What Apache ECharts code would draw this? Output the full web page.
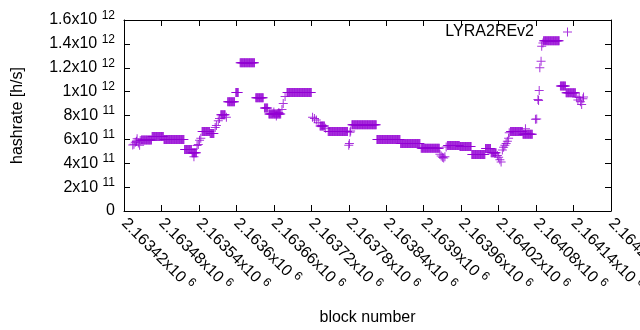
<!DOCTYPE html>
<html>
<head>
<meta charset="utf-8">
<script src="https://cdn.jsdelivr.net/npm/echarts@6/dist/echarts.min.js"></script>
<style>
  html, body { margin: 0; padding: 0; background: #fff; }
  #chart { width: 640px; height: 330px; }
</style>
</head>
<body>
<div id="chart"></div>
<script>
// plateaus: runs of consecutive blocks sharing one hashrate (value x 1e11 h/s)
const runStart = [2163448, 2163465, 2163484, 2163517, 2163529, 2163545, 2163558, 2163575, 2163586, 2163599,
                  2163606, 2163631, 2163645, 2163652, 2163681, 2163734, 2163747, 2163785, 2163825, 2163863,
                  2163896, 2163938, 2163958, 2163977, 2163999, 2164008, 2164039, 2164059, 2164092, 2164119,
                  2164128];
const runEnd   = [2163464, 2163483, 2163516, 2163528, 2163536, 2163557, 2163564, 2163582, 2163597, 2163603,
                  2163629, 2163643, 2163650, 2163671, 2163720, 2163741, 2163778, 2163824, 2163862, 2163894,
                  2163925, 2163957, 2163976, 2163998, 2164007, 2164016, 2164058, 2164074, 2164117, 2164127,
                  2164143];
const runValue = [5.95, 6.24, 5.98, 5.15, 4.89, 6.66, 6.5, 8.06, 9.16, 9.92,
                  12.41, 9.49, 8.63, 8.12, 9.92, 7.12, 6.67, 7.23, 5.98, 5.65,
                  5.26, 5.48, 5.4, 4.74, 5.23, 4.89, 6.66, 6.43, 14.27, 10.48,
                  9.91];

// single blocks outside the plateaus (value x 1e11 h/s)
const pointBlock = [2163434, 2163436, 2163438, 2163440, 2163441, 2163443, 2163445, 2163446,
                    2163532, 2163537, 2163539, 2163541, 2163543,
                    2163566, 2163568, 2163571, 2163573, 2163584,
                    2163660, 2163664, 2163668, 2163673, 2163675, 2163678,
                    2163722, 2163725, 2163728, 2163731, 2163743,
                    2163780, 2163781, 2163782, 2163783,
                    2163926, 2163928, 2163930, 2163932, 2163934, 2163936,
                    2164018, 2164020, 2164022, 2164024,
                    2164026, 2164028, 2164030, 2164032, 2164034, 2164036, 2164037,
                    2164063, 2164079, 2164081,
                    2164083, 2164084, 2164085, 2164086, 2164088, 2164089, 2164091,
                    2164145, 2164147, 2164149, 2164151, 2164153, 2164155, 2164156];
const pointValue = [5.52, 5.59, 5.75, 5.85, 6.05, 5.7, 5.5, 5.9,
                    4.55, 5.48, 5.57, 5.93, 6.1,
                    6.99, 7.17, 7.55, 7.75, 7.86,
                    8.3, 7.95, 8.25, 8.5, 9.0, 9.6,
                    7.85, 7.75, 7.63, 7.4, 6.93,
                    5.5, 5.65, 6.6, 6.7,
                    4.75, 4.6, 4.5, 4.45, 4.55, 5.36,
                    4.65, 4.5, 4.3, 4.1,
                    5.1, 5.35, 5.5, 5.65, 5.85, 6.1, 6.55,
                    6.9, 7.68, 7.7,
                    9.33, 9.25, 10.1, 12.0, 12.55, 13.8, 14.08,
                    9.55, 9.3, 9.5, 9.15, 8.93, 9.4, 9.55];

const seriesName = 'LYRA2REv2';
const xMin = 2163420, xMax = 2164200, xStep = 60;
const yMin = 0, yMax = 1.6e12, yStep = 2e11;

const font = 'Liberation Sans';
const purple = '#9400d3';
const plus = 'path://M0,4L9,4L9,5L0,5Z M4,0L5,0L5,9L4,9Z';

let points = [];
runStart.forEach((s, i) => {
    for (let b = s; b <= runEnd[i]; b++) points.push([b, runValue[i] * 1e11]);
});
pointBlock.forEach((b, i) => points.push([b, pointValue[i] * 1e11]));

const rich = {
    n: {fontSize: 16, fontFamily: font, color: '#000'},
    s: {fontSize: 12, fontFamily: font, color: '#000', padding: [0, 0, 9, 0]}
};

function yLabel(v) {
    if (v === 0) return '0';
    const e = Math.floor(Math.log10(v) + 1e-9);
    const m = +(v / Math.pow(10, e)).toFixed(2);
    return '{n|' + m + 'x10} {s|' + e + '}';
}
function xLabel(v) {
    return '{n|' + (+(v / 1e6).toFixed(6)) + 'x10} {s|6}';
}

const tick = {show: true, inside: true, length: 6, lineStyle: {color: '#000', width: 1}};
const line = {show: true, onZero: false, lineStyle: {color: '#000', width: 1}};

let chart = echarts.init(document.getElementById('chart'), null, {renderer: 'canvas'});
chart.setOption({
    animation: false,
    backgroundColor: '#fff',
    grid: {left: 124, right: 29, top: 20, bottom: 119, containLabel: false, outerBoundsMode: 'none'},
    legend: {
        right: 68, top: 24, padding: 0, align: 'right',
        itemWidth: 9, itemHeight: 9,
        data: [{name: seriesName, icon: plus}],
        textStyle: {fontSize: 16, fontFamily: font, color: '#000', padding: [0, 24, 0, 0]}
    },
    xAxis: [
        {
            type: 'value', min: xMin, max: xMax, interval: xStep,
            name: 'block number', nameLocation: 'middle', nameGap: 99,
            nameTextStyle: {fontSize: 16, fontFamily: font, color: '#000'},
            axisLine: line, axisTick: tick, splitLine: {show: false},
            axisLabel: {
                rotate: -45, margin: 10, formatter: xLabel, rich: rich,
                fontSize: 16, fontFamily: font, color: '#000',
                showMinLabel: true, showMaxLabel: true, hideOverlap: false
            }
        },
        {
            type: 'value', position: 'top', min: xMin, max: xMax, interval: xStep,
            axisLine: line, axisTick: tick, splitLine: {show: false}, axisLabel: {show: false}
        }
    ],
    yAxis: [
        {
            type: 'value', min: yMin, max: yMax, interval: yStep,
            name: 'hashrate [h/s]', nameLocation: 'middle', nameGap: 98,
            nameTextStyle: {fontSize: 16, fontFamily: font, color: '#000'},
            axisLine: line, axisTick: tick, splitLine: {show: false},
            axisLabel: {
                margin: 9, formatter: yLabel, rich: rich,
                fontSize: 16, fontFamily: font, color: '#000',
                showMinLabel: true, showMaxLabel: true
            }
        },
        {
            type: 'value', position: 'right', min: yMin, max: yMax, interval: yStep,
            axisLine: line, axisTick: tick, splitLine: {show: false}, axisLabel: {show: false}
        }
    ],
    series: [
        {
            name: seriesName,
            type: 'scatter',
            xAxisIndex: 0, yAxisIndex: 0,
            symbol: plus, symbolSize: 9,
            itemStyle: {color: purple},
            emphasis: {disabled: true},
            data: points
        }
    ]
});
</script>
</body>
</html>
